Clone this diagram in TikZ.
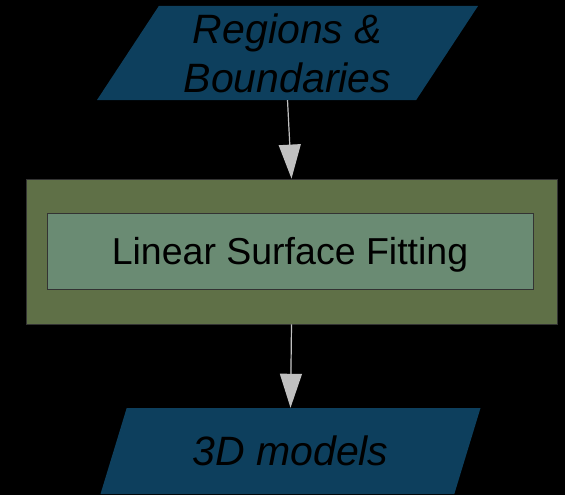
\documentclass[tikz,border=0pt]{standalone}
\usepackage{fontspec}
\setmainfont{Liberation Sans}
\usepackage{xcolor}
\usepackage{tikz}
\usetikzlibrary{arrows.meta, shapes.geometric, positioning, calc}

\definecolor{iobl}{HTML}{0D3F5D}
\definecolor{procgr}{HTML}{5F7047}
\definecolor{stepgr}{HTML}{6A8B73}
\definecolor{flowgr}{HTML}{C0C0C0}

\begin{document}
\begin{tikzpicture}[
  x=1pt, y=-1pt,
  >={Triangle[width=22pt,length=34pt]},
  iobox/.style={trapezium, trapezium stretches body, fill=iobl,
                inner sep=0pt, align=center,
                font=\fontsize{41}{49}\selectfont\itshape},
  procbox/.style={draw=black!80, line width=0.8pt, fill=procgr,
                  minimum width=531pt, minimum height=145pt, inner sep=0pt},
  stepbox/.style={draw=black!80, line width=0.8pt, fill=stepgr,
                  minimum width=486pt, minimum height=76pt, inner sep=0pt,
                  text depth=0pt, font=\fontsize{37.5}{40}\selectfont},
  flow/.style={->, draw=flowgr, fill=flowgr, line width=1.2pt}
]

\fill[black] (0,0) rectangle (565,495);
\useasboundingbox (0,0) rectangle (565,495);

% Input data
\node[iobox, trapezium left angle=52, trapezium right angle=128,
      minimum width=381pt, minimum height=94pt] (regions) at (287.5,53)
  {Regions \&\\Boundaries};

% Fitting stage
\node[procbox] (fitting) at (291.5,251.5) {};
\node[stepbox] (linfit) at (290,251) {Linear Surface Fitting};

% Output
\node[iobox, trapezium left angle=49, trapezium right angle=131,
      minimum width=380pt, minimum height=86pt] (models) at (290.5,451)
  {3D models};

\draw[flow] (regions.south) -- (fitting.north);
\draw[flow] (fitting.south) -- (models.north);

\end{tikzpicture}
\end{document}
